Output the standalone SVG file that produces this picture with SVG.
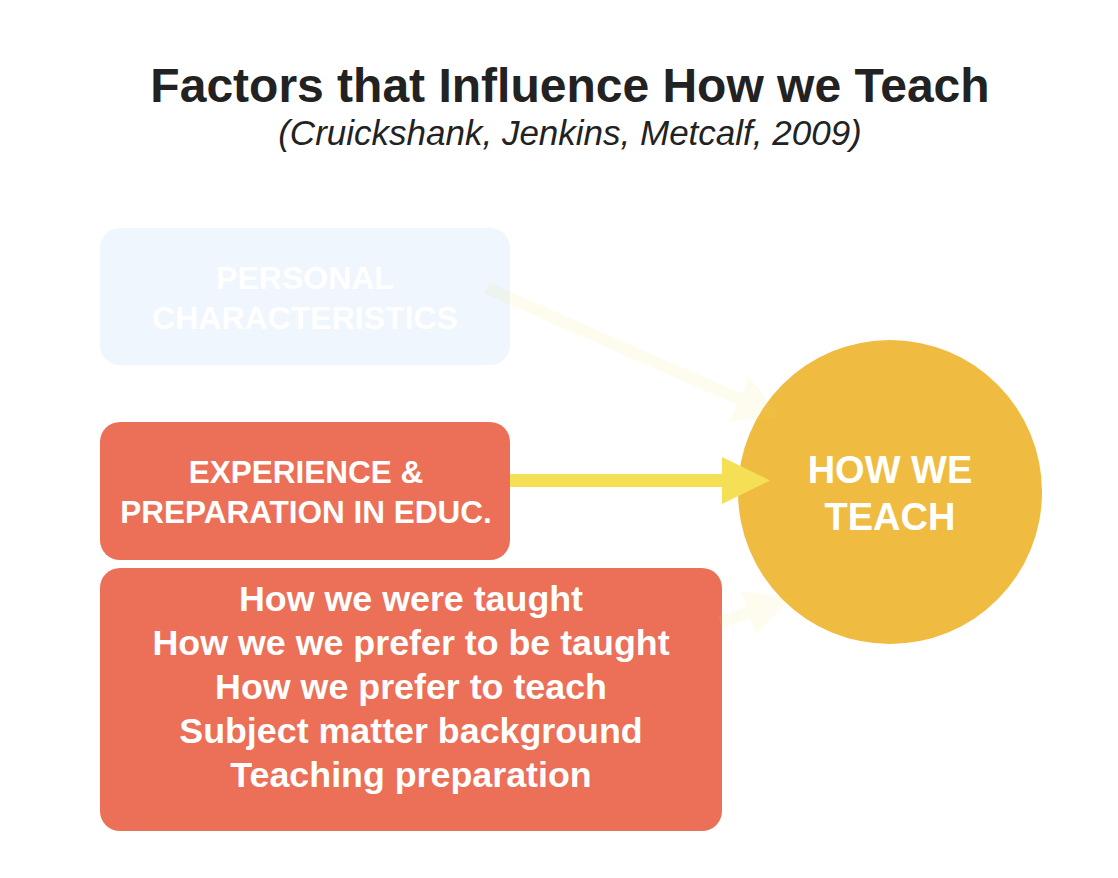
<svg xmlns="http://www.w3.org/2000/svg" width="1118" height="878" viewBox="0 0 1118 878">
<style>
.title{font-family:"Liberation Sans",Arial,sans-serif;font-weight:bold;font-size:48px;fill:#222;text-anchor:middle}
.sub{font-family:"Liberation Sans",Arial,sans-serif;font-style:italic;font-size:35px;fill:#222;text-anchor:middle}
.lbl{font-family:"Liberation Sans",Arial,sans-serif;font-weight:bold;fill:#fff;text-anchor:middle}
.red{fill:#ec6f58}
.faded{fill:#f5df55;opacity:0.09}
.solid{fill:#f5df55}
</style>
<rect width="1118" height="878" fill="#fff"/>
<g id="title">
<text class="title" x="570" y="102">Factors that Influence How we Teach</text>
<text class="sub" x="570" y="145">(Cruickshank, Jenkins, Metcalf, 2009)</text>
</g>
<g id="node-personal">
<rect x="100" y="228" width="410" height="137" rx="20" fill="#eff6fd"/>
<text class="lbl" x="305" y="289" font-size="32">PERSONAL</text>
<text class="lbl" x="305" y="329" font-size="32">CHARACTERISTICS</text>
</g>
<g id="node-experience">
<rect class="red" x="100" y="422" width="410" height="138" rx="20"/>
<text class="lbl" x="306" y="483" font-size="31.5">EXPERIENCE &amp;</text>
<text class="lbl" x="306" y="523" font-size="31.5">PREPARATION IN EDUC.</text>
</g>
<g id="node-details">
<rect class="red" x="100" y="568" width="622" height="263" rx="20"/>
<text class="lbl" x="411" y="611" font-size="35.8">How we were taught</text>
<text class="lbl" x="411" y="655" font-size="35.8">How we we prefer to be taught</text>
<text class="lbl" x="411" y="699" font-size="35.8">How we prefer to teach</text>
<text class="lbl" x="411" y="743" font-size="35.8">Subject matter background</text>
<text class="lbl" x="411" y="787" font-size="35.8">Teaching preparation</text>
</g>
<g id="node-how">
<circle cx="890" cy="492" r="152" fill="#efbb40"/>
<text class="lbl" x="890" y="483" font-size="38">HOW WE</text>
<text class="lbl" x="890" y="530" font-size="38">TEACH</text>
</g>
<g id="connectors">
<g class="faded" transform="translate(487,288) rotate(23.78)">
<rect x="0" y="-6" width="277" height="12"/>
<polygon points="276,-24 322,0 276,24"/>
</g>
<g class="solid">
<rect x="510" y="474" width="213" height="13"/>
<polygon points="722,457 770,480.5 722,504"/>
</g>
<g class="faded" transform="translate(720,622) rotate(-18.4)">
<rect x="0" y="-6" width="31" height="12"/>
<polygon points="30,-23 76,0 30,23"/>
</g>
</g>
</svg>
